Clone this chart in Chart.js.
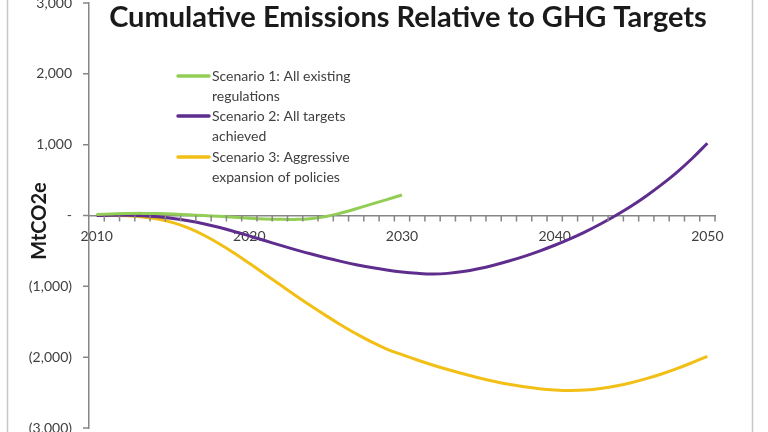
<!DOCTYPE html>
<html>
<head>
<meta charset="utf-8">
<title>Cumulative Emissions Relative to GHG Targets</title>
<script src="https://cdn.jsdelivr.net/npm/chart.js@4.4.0/dist/chart.umd.min.js"></script>
<style>
  html, body { margin: 0; padding: 0; background: #fff; }
  #wrap { position: relative; width: 768px; height: 432px; overflow: hidden; }
</style>
</head>
<body>
<div id="wrap"><canvas id="emissions" width="768" height="432"></canvas></div>
<script>
const chartTitle = "Cumulative Emissions Relative to GHG Targets";
const yAxisTitle = "MtCO2e";

const years = [
  "2010", "2011", "2012", "2013", "2014", "2015", "2016", "2017", "2018", "2019",
  "2020", "2021", "2022", "2023", "2024", "2025", "2026", "2027", "2028", "2029",
  "2030", "2031", "2032", "2033", "2034", "2035", "2036", "2037", "2038", "2039",
  "2040", "2041", "2042", "2043", "2044", "2045", "2046", "2047", "2048", "2049",
  "2050",
];

const seriesNames = [
  "Scenario 1: All existing regulations",
  "Scenario 2: All targets achieved",
  "Scenario 3: Aggressive expansion of policies",
];

// scenario 1 only runs to 2030
const scenario1 = [
  15, 22, 28, 30, 27, 20, 10, 0, -12, -25,
  -38, -48, -54, -55, -45, -15, 35, 95, 160, 225,
  290,
];

const scenario2 = [
  0, 2, 3, -3, -18, -42, -75, -117, -167, -225,
  -288, -353, -418, -481, -541, -597, -648, -694, -735, -770,
  -798, -816, -825, -817, -792, -752, -702, -643, -577, -502,
  -420, -330, -230, -120, 0, 130, 275, 435, 610, 805,
  1020,
];

const scenario3 = [
  0, 0, -5, -20, -50, -100, -175, -275, -395, -530,
  -675, -825, -975, -1125, -1270, -1410, -1545, -1670, -1785, -1885,
  -1965, -2040, -2110, -2175, -2235, -2290, -2340, -2383, -2418, -2445,
  -2462, -2470, -2464, -2443, -2408, -2362, -2303, -2237, -2162, -2078,
  -1988,
];

const lineColors = ["#92CD55", "#5E2D8E", "#F2BF16"];

const axisGray = "#868686";
const textGray = "#404040";

function yTickLabel(v) {
  if (v === 0) return "-";
  const s = Math.abs(v).toLocaleString("en-US");
  return v < 0 ? "(" + s + ")" : s;
}

// outer chart frame (left / right edges of the original excel box)
const framePlugin = {
  id: "frame",
  beforeDraw(chart) {
    const ctx = chart.ctx;
    ctx.save();
    ctx.strokeStyle = "#c8c8c8";
    ctx.lineWidth = 1.5;
    ctx.beginPath();
    ctx.moveTo(7.5, 0);
    ctx.lineTo(7.5, chart.height);
    ctx.moveTo(752.5, 0);
    ctx.lineTo(752.5, chart.height);
    ctx.stroke();
    ctx.restore();
  },
};

// small tick marks: x between categories (below the zero line), y outside the axis
const tickMarkPlugin = {
  id: "tickMarks",
  afterDraw(chart) {
    const { ctx, scales } = chart;
    const xs = scales.x;
    const ys = scales.y;
    const y0 = ys.getPixelForValue(0);
    const n = chart.data.labels.length;
    const step = (xs.right - xs.left) / n;
    ctx.save();
    ctx.strokeStyle = axisGray;
    ctx.lineWidth = 1.5;
    ctx.beginPath();
    for (let k = 1; k <= n; k++) {
      const px = xs.left + k * step;
      ctx.moveTo(px, y0);
      ctx.lineTo(px, y0 + 6);
    }
    ys.ticks.forEach((t) => {
      const py = ys.getPixelForValue(t.value);
      ctx.moveTo(xs.left - 6, py);
      ctx.lineTo(xs.left, py);
    });
    ctx.stroke();
    ctx.restore();
  },
};

// title, axis title and legend sit inside the plot area in the original
const overlayPlugin = {
  id: "overlay",
  afterDraw(chart) {
    const ctx = chart.ctx;
    ctx.save();
    ctx.fillStyle = "#1a1a1a";
    ctx.font = "bold 29px Lato";
    ctx.textAlign = "center";
    ctx.textBaseline = "alphabetic";
    ctx.fillText(chartTitle, 408, 27);

    ctx.save();
    ctx.translate(40, 221);
    ctx.rotate(-Math.PI / 2);
    ctx.font = "bold 20px Lato";
    ctx.textBaseline = "middle";
    ctx.fillText(yAxisTitle, 0, 0);
    ctx.restore();

    ctx.font = "14px Lato";
    ctx.textAlign = "left";
    ctx.textBaseline = "middle";
    const rowY = [76, 116, 157];
    chart.data.datasets.forEach((ds, i) => {
      const y = rowY[i];
      ctx.strokeStyle = ds.borderColor;
      ctx.lineWidth = 3.5;
      ctx.lineCap = "round";
      ctx.beginPath();
      ctx.moveTo(178, y);
      ctx.lineTo(209, y);
      ctx.stroke();

      // wrap legend text
      const words = ds.label.split(" ");
      const lines = [];
      let cur = "";
      words.forEach((w) => {
        const test = cur ? cur + " " + w : w;
        if (cur && ctx.measureText(test).width > 150) {
          lines.push(cur);
          cur = w;
        } else {
          cur = test;
        }
      });
      lines.push(cur);
      ctx.fillStyle = textGray;
      lines.forEach((ln, j) => ctx.fillText(ln, 212, y + j * 20));
    });
    ctx.restore();
  },
};

const ctx = document.getElementById("emissions").getContext("2d");
new Chart(ctx, {
  type: "line",
  data: {
    labels: years,
    datasets: [
      { label: seriesNames[0], data: scenario1, borderColor: lineColors[0] },
      { label: seriesNames[1], data: scenario2, borderColor: lineColors[1] },
      { label: seriesNames[2], data: scenario3, borderColor: lineColors[2] },
    ].map((d) => ({
      ...d,
      backgroundColor: d.borderColor,
      borderWidth: 3,
      pointRadius: 0,
      fill: false,
      tension: 0.4,
    })),
  },
  options: {
    responsive: false,
    animation: false,
    layout: { padding: { left: 0, right: 53, top: 3, bottom: 4 } },
    plugins: {
      legend: { display: false },
      title: { display: false },
      tooltip: { enabled: false },
    },
    scales: {
      x: {
        type: "category",
        position: { y: 0 },
        offset: true,
        border: { color: axisGray, width: 1.5 },
        grid: {
          offset: true,
          drawOnChartArea: false,
          drawTicks: true,
          tickLength: 5,
          color: "rgba(0,0,0,0)",
        },
        ticks: {
          autoSkip: false,
          maxRotation: 0,
          padding: 8,
          color: textGray,
          font: { family: "Lato", size: 14 },
          callback: function (val) {
            const y = this.getLabelForValue(val);
            return Number(y) % 10 === 0 ? y : "";
          },
        },
      },
      y: {
        min: -3000,
        max: 3000,
        afterFit(scale) {
          scale.width = 89;
          scale.paddingTop = 0;
          scale.paddingBottom = 0;
        },
        border: { color: axisGray, width: 1.5 },
        grid: {
          drawOnChartArea: false,
          drawTicks: true,
          tickLength: 5,
          color: "rgba(0,0,0,0)",
        },
        ticks: {
          stepSize: 1000,
          padding: 12,
          color: textGray,
          font: { family: "Lato", size: 14 },
          callback: yTickLabel,
        },
      },
    },
  },
  plugins: [framePlugin, tickMarkPlugin, overlayPlugin],
});
</script>
</body>
</html>
